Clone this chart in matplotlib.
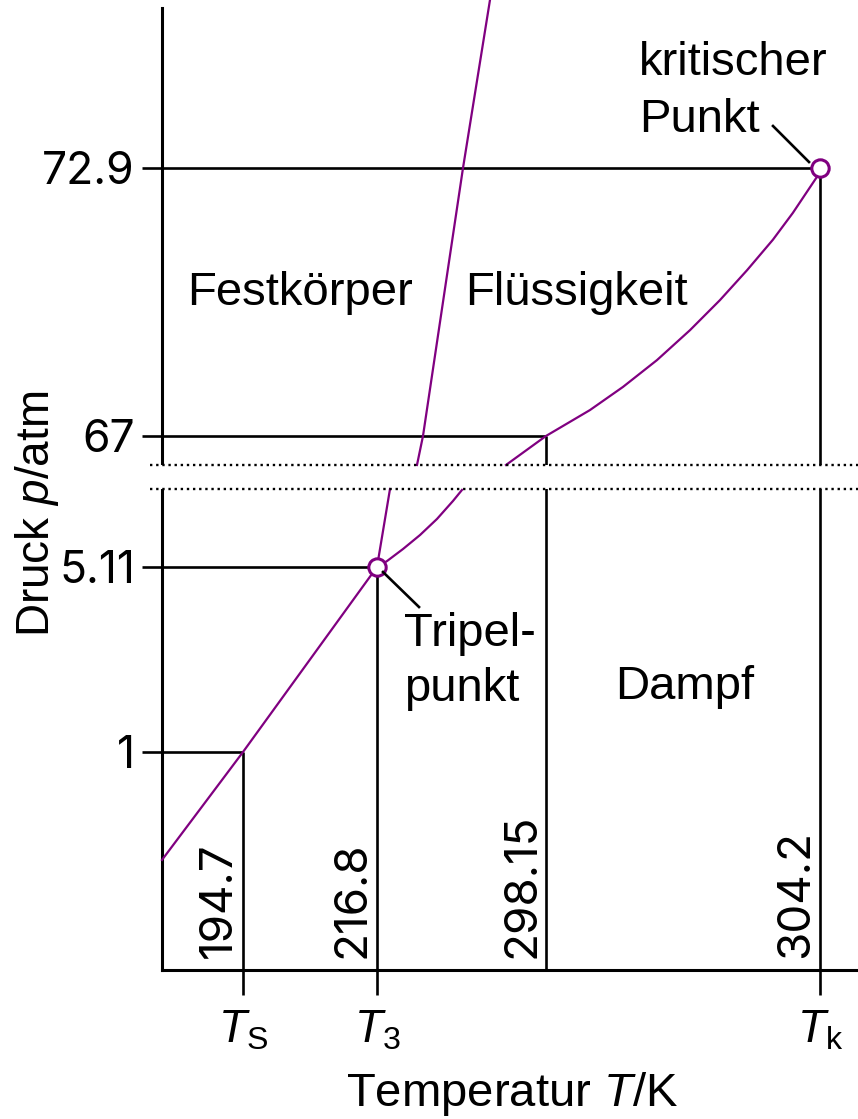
import numpy as np
import matplotlib
matplotlib.use('Agg')
import matplotlib.pyplot as plt
from matplotlib.lines import Line2D

plt.rcParams['font.family'] = ['Liberation Sans', 'DejaVu Sans']
plt.rcParams['mathtext.fontset'] = 'custom'
plt.rcParams['mathtext.rm'] = 'Liberation Sans'
plt.rcParams['mathtext.it'] = 'Liberation Sans:italic'

# ---------------- data ----------------
T_marks = [194.7, 216.8, 298.15, 304.2]          # K
T_mark_labels = ['194.7', '216.8', '298.15', '304.2']
T_ticks = [194.7, 216.8, 304.2]
T_tick_labels = [r'$T_{\mathrm{S}}$', r'$T_{3}$', r'$T_{\mathrm{k}}$']
p_marks = [1, 5.11, 67, 72.9]                    # atm
p_mark_labels = ['1', '5.11', '67', '72.9']

nan = np.nan
sub_T = [181.0, 194.7, 216.8]
sub_p = [0.505, 1.0, 5.11]
melt_T = [216.8, 223.06, nan, 236.05, 238.94, 258.20, 271.19]
melt_p = [5.11, 41.96, nan, 53.30, 67.0, 72.9, 80.0]
vap_T = [216.8, 221.61, 229.32, 237.50, 245.68, 253.38, 257.71, nan,
         278.89, 298.15, 299.12, 299.85, 300.60, 301.33, 301.99, 302.59,
         303.16, 303.60, 304.13, 304.2]
vap_p = [5.11, 7.90, 13.60, 20.20, 27.80, 36.30, 41.50, nan,
         53.30, 67.0, 67.57, 68.08, 68.67, 69.33, 69.99, 70.65,
         71.32, 71.91, 72.70, 72.9]
triple = (216.8, 5.11)
critical = (304.2, 72.9)
break_p = (41.96, 53.30)

# ---------------- schematic (non-linear) axis scales ----------------
T_anchor = [181.0, 194.7, 216.8, 298.15, 304.2, 305.06]
T_pos = [162, 243, 377, 546, 820, 858]
p_anchor = [0.0, 1.0, 5.11, 67.0, 72.9, 80.0]
p_pos = [0, 218, 403, 534, 802, 970]

def fx(T):
    return np.interp(np.asarray(T, float), T_anchor, T_pos)
def ix(v):
    return np.interp(np.asarray(v, float), T_pos, T_anchor)
def fy(p):
    return np.interp(np.asarray(p, float), p_anchor, p_pos)
def iy(v):
    return np.interp(np.asarray(v, float), p_pos, p_anchor)

W, H = 858, 1119
fig = plt.figure(figsize=(W / 100, H / 100), dpi=100)
def FX(x): return x / W
def FY(y): return 1 - y / H

ax = fig.add_axes([FX(162), FY(970), (858 - 162) / W, (970 - 8) / H])
ax.set_xscale('function', functions=(fx, ix))
ax.set_yscale('function', functions=(fy, iy))
ax.set_xlim(181.0, 305.06)
ax.set_ylim(0.0, 79.66)

purple = '#800080'
lw_ref = 1.9
numfont = ['Inter', 'Liberation Sans', 'DejaVu Sans']

# reference lines
for T, p in zip(T_marks, p_marks):
    ax.plot([181.0, T], [p, p], color='black', lw=lw_ref, zorder=2,
            solid_capstyle='butt')
    ax.plot([T, T], [0, p], color='black', lw=lw_ref, zorder=2,
            solid_capstyle='butt')

# phase boundaries
for xs, ys in [(sub_T, sub_p), (melt_T, melt_p), (vap_T, vap_p)]:
    ax.plot(xs, ys, color=purple, lw=1.6, zorder=4, clip_on=False)

# axis break
ax.axhspan(break_p[0], break_p[1], xmin=-0.03, xmax=1.0, color='white',
           zorder=3, clip_on=False, lw=0)
for pb in break_p:
    ax.axhline(pb, xmin=(150 - 162) / 696, xmax=1.0, color='black', lw=1.7,
               ls=(0, (1, 1.6)), zorder=5, clip_on=False)

# special points
for pt in (triple, critical):
    ax.plot(*pt, 'o', ms=12.5, mfc='white', mec=purple, mew=2.2, zorder=6,
            clip_on=False)

# spines / ticks
for s in ('top', 'right'):
    ax.spines[s].set_visible(False)
for s in ('left', 'bottom'):
    ax.spines[s].set_linewidth(2.2)
ax.set_xticks(T_ticks)
ax.set_xticklabels(T_tick_labels, fontsize=33)
ax.set_yticks(p_marks)
ax.set_yticklabels(p_mark_labels, fontsize=32, family=numfont)
ax.tick_params(axis='x', direction='out', length=18, width=lw_ref, pad=10)
ax.tick_params(axis='y', direction='out', length=14.5, width=lw_ref, pad=5)
ax.minorticks_off()

# rotated temperature values
for T, lab in zip(T_marks, T_mark_labels):
    ax.annotate(lab, xy=(T, 0), xytext=(-3, 12), textcoords='offset pixels',
                rotation=90, ha='right', va='bottom', fontsize=33,
                family=numfont)

# axis labels
fig.text(FX(49), FY(514), r'Druck $p$/atm', rotation=90, rotation_mode='anchor',
         ha='center', va='baseline', fontsize=33)
fig.text(FX(512), FY(1106), r'Temperatur $T$/K', ha='center', va='baseline',
         fontsize=34)

# region labels
fs = 34
fig.text(FX(187), FY(305), 'Festkörper', fontsize=fs, va='baseline')
fig.text(FX(465), FY(305), 'Flüssigkeit', fontsize=fs, va='baseline')
fig.text(FX(615), FY(699), 'Dampf', fontsize=fs, va='baseline')
fig.text(FX(404), FY(646), 'Tripel-', fontsize=fs, va='baseline')
fig.text(FX(404), FY(701), 'punkt', fontsize=fs, va='baseline')
fig.text(FX(639), FY(75), 'kritischer', fontsize=fs, va='baseline')
fig.text(FX(639), FY(132), 'Punkt', fontsize=fs, va='baseline')

# leader lines
for (x0, y0), (x1, y1) in [((383, 572), (419, 607)), ((773, 126), (809, 162))]:
    fig.add_artist(Line2D([FX(x0), FX(x1)], [FY(y0), FY(y1)],
                          transform=fig.transFigure, color='black', lw=1.9))

fig.savefig('out.png', dpi=100)
